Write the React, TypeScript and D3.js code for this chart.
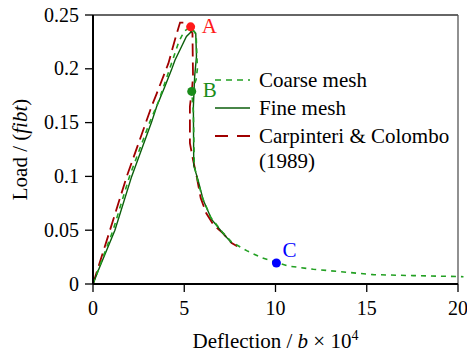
import React from 'react';
import * as d3 from 'd3';

// deflection (b x 10^4) and load (fibt)
const coarseX = [0, 1.1, 2.0, 3.1, 3.6, 4.2, 4.7, 5.0, 5.35, 5.65, 5.72, 5.65, 5.41, 5.5, 5.55, 5.75, 6.0, 6.45, 7.1, 7.6, 8.42, 9.24, 9.79, 10.7, 12.07, 13.9, 15.36, 17.55, 20.3];
const coarseY = [0, 0.05, 0.1, 0.15, 0.17, 0.2, 0.225, 0.235, 0.239, 0.232, 0.2, 0.19, 0.179, 0.16, 0.11, 0.095, 0.08, 0.062, 0.048, 0.039, 0.031, 0.0244, 0.0214, 0.0167, 0.0137, 0.0109, 0.0087, 0.0078, 0.0068];

const fineX = [0, 0.3, 1.2, 2.12, 3.2, 3.49, 3.95, 4.3, 4.49, 4.86, 5.12, 5.48, 5.63, 5.67, 5.57, 5.5, 5.52, 5.75, 6.04, 6.5, 7.13, 7.6];
const fineY = [0, 0.013, 0.05, 0.1, 0.15, 0.165, 0.184, 0.199, 0.208, 0.221, 0.23, 0.236, 0.233, 0.2115, 0.193, 0.165, 0.11, 0.097, 0.078, 0.06, 0.047, 0.038];

const carpX = [0, 0.93, 1.85, 3.21, 3.49, 4.13, 4.49, 4.77, 5.04, 5.45, 5.48, 5.44, 5.31, 5.31, 5.48, 5.68, 5.9, 6.2, 6.6, 7.13, 7.6, 7.9];
const carpY = [0, 0.05, 0.1, 0.165, 0.177, 0.205, 0.227, 0.243, 0.243, 0.233, 0.193, 0.184, 0.165, 0.131, 0.1155, 0.1, 0.08, 0.066, 0.055, 0.047, 0.038, 0.035];

const xTicks = [0, 5, 10, 15, 20];
const yTicks = [0, 0.05, 0.1, 0.15, 0.2, 0.25];

const points = [
  { name: 'A', x: 5.35, y: 0.239, color: '#ff1a1a' },
  { name: 'B', x: 5.41, y: 0.179, color: '#1a8c1a' },
  { name: 'C', x: 10.05, y: 0.0195, color: '#0000ff' },
];

const legendItems = ['Coarse mesh', 'Fine mesh', 'Carpinteri & Colombo'];

const W = 467;
const H = 355;
const margin = { top: 15, right: 9, bottom: 71, left: 93 };
const font = "'Liberation Serif', 'Times New Roman', Times, serif";

const COARSE = '#22a022';
const FINE = '#0b5e0b';
const CARP = '#a00000';

export default function App() {
  const x = d3.scaleLinear().domain([0, 20]).range([margin.left, W - margin.right]);
  const y = d3.scaleLinear().domain([0, 0.25]).range([H - margin.bottom, margin.top]);

  const line = d3.line<number[]>()
    .x(d => d[0])
    .y(d => d[1]);

  const toPath = (xs: number[], ys: number[]) =>
    line(xs.map((v, i) => [x(v), y(ys[i])])) || '';

  const x0 = x(0), x1 = x(20), y0 = y(0), y1 = y(0.25);

  // legend placement
  const lx = 215, lx2 = 250, ltx = 259;
  const rows = [80, 108, 136];
  const styles = [
    { stroke: COARSE, dash: '6,5', w: 1.6 },
    { stroke: FINE, dash: '', w: 1.5 },
    { stroke: CARP, dash: '13,9', w: 1.8 },
  ];

  return (
    <svg width={W} height={H} style={{ position: 'absolute', left: 0, top: 0, fontFamily: font }}>
      <rect width={W} height={H} fill="#fff" />

      {/* frame: top/right thin */}
      <line x1={x0} x2={x1} y1={y1} y2={y1} stroke="#333" strokeWidth={1.3} />
      <line x1={x1} x2={x1} y1={y1} y2={y0} stroke="#555" strokeWidth={1.3} />

      {/* curves */}
      <path d={toPath(carpX, carpY)} fill="none" stroke={CARP} strokeWidth={1.8} strokeDasharray="13,6" />
      <path d={toPath(fineX, fineY)} fill="none" stroke={FINE} strokeWidth={1.4} />
      <path d={toPath(coarseX, coarseY)} fill="none" stroke={COARSE} strokeWidth={1.6} strokeDasharray="5,5" />

      {/* axes */}
      <line x1={x0} x2={x1} y1={y0} y2={y0} stroke="#000" strokeWidth={2} />
      <line x1={x0} x2={x0} y1={y1} y2={y0} stroke="#000" strokeWidth={2} />
      {xTicks.map(t => (
        <g key={'x' + t}>
          <line x1={x(t)} x2={x(t)} y1={y0} y2={y0 + 8} stroke="#000" strokeWidth={1.3} />
          <text x={x(t)} y={315} textAnchor="middle" fontSize={20}>{t}</text>
        </g>
      ))}
      {yTicks.map(t => (
        <g key={'y' + t}>
          <line x1={x0 - 8} x2={x0} y1={y(t)} y2={y(t)} stroke="#000" strokeWidth={1.3} />
          <text x={79} y={y(t)} dy="0.33em" textAnchor="end" fontSize={20}>{String(t)}</text>
        </g>
      ))}

      {/* axis titles */}
      <text x={(x0 + x1) / 2} y={348} textAnchor="middle" fontSize={21}>
        Deflection / <tspan fontStyle="italic">b</tspan> × 10<tspan fontSize={14} dy={-8}>4</tspan>
      </text>
      <text transform={`translate(27,${(y0 + y1) / 2}) rotate(-90)`} textAnchor="middle" fontSize={21}>
        Load / (<tspan fontStyle="italic">fibt</tspan>)
      </text>

      {/* marked points */}
      {points.map(p => (
        <g key={p.name}>
          <circle cx={x(p.x)} cy={y(p.y)} r={4.5} fill={p.color} />
          <text
            x={x(p.x) + (p.name === 'C' ? 6 : 11)}
            y={y(p.y) + (p.name === 'C' ? -6 : 6)}
            fill={p.color}
            fontSize={21}
          >{p.name}</text>
        </g>
      ))}

      {/* legend */}
      {legendItems.map((name, i) => (
        <g key={name}>
          <line x1={lx} x2={lx2} y1={rows[i]} y2={rows[i]} stroke={styles[i].stroke}
            strokeWidth={styles[i].w} strokeDasharray={styles[i].dash || undefined} />
          <text x={ltx} y={rows[i]} dy="0.35em" fontSize={21}>{name}</text>
        </g>
      ))}
      <text x={ltx} y={161} dy="0.35em" fontSize={21}>(1989)</text>
    </svg>
  );
}
